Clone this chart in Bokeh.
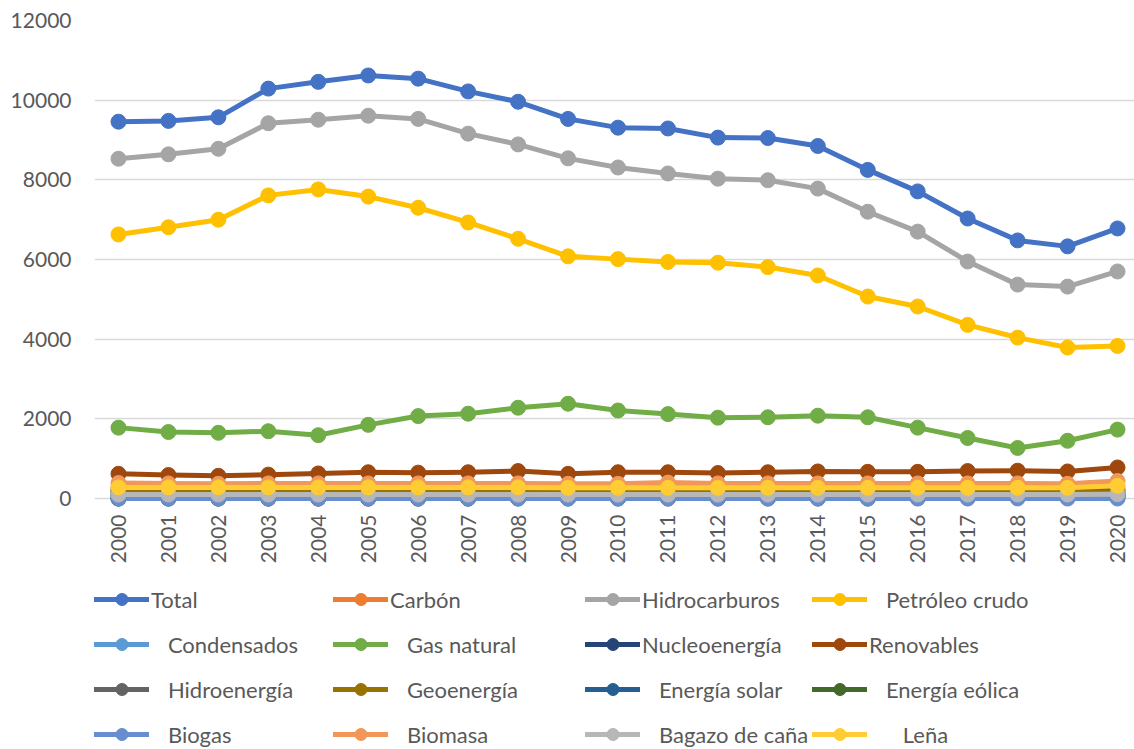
from bokeh.plotting import figure
from bokeh.models import Range1d, FixedTicker, Legend, LegendItem
from bokeh.layouts import column
from bokeh.embed import file_html
from bokeh.resources import INLINE
import math

years = [2000, 2001, 2002, 2003, 2004, 2005, 2006, 2007, 2008, 2009, 2010,
         2011, 2012, 2013, 2014, 2015, 2016, 2017, 2018, 2019, 2020]

total = [9460, 9480, 9570, 10290, 10460, 10620, 10540, 10220, 9960, 9530, 9310,
         9290, 9060, 9050, 8850, 8250, 7710, 7030, 6480, 6330, 6780]
carbon = [270, 270, 270, 280, 280, 290, 290, 290, 300, 290, 290,
          300, 300, 290, 290, 280, 270, 260, 260, 250, 260]
hidrocarburos = [8530, 8640, 8780, 9420, 9510, 9610, 9530, 9160, 8890, 8540, 8310,
                 8160, 8030, 7990, 7780, 7200, 6700, 5950, 5370, 5320, 5700]
petroleo = [6630, 6810, 7000, 7610, 7760, 7580, 7300, 6930, 6520, 6080, 6010,
            5940, 5920, 5810, 5600, 5070, 4820, 4360, 4040, 3790, 3830]
condensados = [90, 90, 80, 80, 80, 70, 70, 60, 60, 60, 50,
               50, 40, 40, 40, 30, 30, 30, 30, 20, 20]
gas_natural = [1780, 1670, 1650, 1690, 1590, 1850, 2070, 2130, 2280, 2380, 2210,
               2120, 2030, 2040, 2080, 2040, 1780, 1520, 1270, 1450, 1730]
nucleo = [90, 100, 110, 110, 100, 120, 120, 110, 110, 110, 60,
          110, 90, 130, 100, 120, 110, 110, 140, 120, 110]
renovables = [620, 590, 570, 600, 630, 660, 650, 660, 690, 620, 660,
              660, 640, 660, 680, 670, 670, 690, 700, 680, 780]
hidroenergia = [190, 180, 170, 180, 180, 190, 190, 190, 200, 180, 190,
                190, 180, 190, 190, 190, 190, 190, 190, 190, 200]
geoenergia = [180, 180, 180, 180, 180, 180, 180, 180, 180, 180, 180,
              180, 180, 180, 170, 170, 170, 160, 160, 160, 150]
solar = [0, 0, 0, 0, 0, 0, 0, 0, 0, 0, 0,
         0, 0, 0, 0, 0, 10, 20, 40, 60, 70]
eolica = [0, 0, 0, 0, 0, 0, 0, 0, 10, 10, 10,
          20, 20, 20, 30, 30, 40, 40, 50, 60, 70]
biogas = [0, 0, 0, 0, 0, 0, 0, 0, 0, 0, 0,
          0, 0, 0, 0, 0, 0, 0, 0, 0, 0]
biomasa = [390, 380, 370, 380, 380, 380, 380, 380, 380, 370, 370,
           400, 380, 380, 380, 380, 380, 380, 380, 370, 440]
bagazo = [100, 100, 100, 100, 100, 100, 100, 100, 100, 100, 100,
          100, 100, 100, 100, 100, 100, 100, 100, 100, 110]
lena = [280, 280, 280, 280, 280, 280, 280, 280, 280, 270, 270,
        270, 270, 270, 270, 270, 270, 270, 270, 270, 320]

NB = "\u00a0"
series = [
    ("Total", total, "#4472C4"),
    ("Carbón", carbon, "#ED7D31"),
    ("Hidrocarburos", hidrocarburos, "#A5A5A5"),
    (NB * 3 + "Petróleo crudo", petroleo, "#FFC000"),
    (NB * 3 + "Condensados", condensados, "#5B9BD5"),
    (NB * 3 + "Gas natural", gas_natural, "#70AD47"),
    ("Nucleoenergía", nucleo, "#264478"),
    ("Renovables", renovables, "#9E480E"),
    (NB * 3 + "Hidroenergía", hidroenergia, "#636363"),
    (NB * 3 + "Geoenergía", geoenergia, "#997300"),
    (NB * 3 + "Energía solar", solar, "#255E91"),
    (NB * 3 + "Energía eólica", eolica, "#43682B"),
    (NB * 3 + "Biogas", biogas, "#698ED0"),
    (NB * 3 + "Biomasa", biomasa, "#F1975A"),
    (NB * 3 + "Bagazo de caña", bagazo, "#B7B7B7"),
    (NB * 6 + "Leña", lena, "#FFCD33"),
]

FONT = "Lato"
TXT = "#595959"

p = figure(frame_width=1040, frame_height=488, output_backend="svg", toolbar_location=None,
           x_range=Range1d(1999.52, 2020.34), y_range=Range1d(-250, 12000),
           min_border_left=94, min_border_right=0, min_border_top=20,
           min_border_bottom=70)
p.outline_line_color = None
p.background_fill_color = "white"
p.border_fill_color = "white"

for name, vals, col in series:
    p.line(years, vals, line_color=col, line_width=5, line_join="round")
    p.scatter(years, vals, size=15, fill_color=col, line_color=col)

p.xgrid.visible = False
p.ygrid.grid_line_color = "#D9D9D9"
p.ygrid.grid_line_width = 1.3
p.yaxis.ticker = FixedTicker(ticks=[0, 2000, 4000, 6000, 8000, 10000, 12000])
p.xaxis.ticker = FixedTicker(ticks=years)
for ax in (p.xaxis[0], p.yaxis[0]):
    ax.axis_line_color = None
    ax.major_tick_line_color = None
    ax.minor_tick_line_color = None
    ax.major_tick_out = 0
    ax.major_tick_in = 0
    ax.minor_tick_out = 0
    ax.minor_tick_in = 0
    ax.major_label_text_font = FONT
    ax.major_label_text_font_size = "21px"
    ax.major_label_text_color = TXT
p.yaxis.major_label_standoff = 23
p.xaxis.major_label_standoff = 6
p.xaxis.major_label_orientation = math.pi / 2

# legend panel: a frame-only figure holding four legend columns
# (its own copies of the series lie outside its visible range; only the legend shows)
lg = figure(width=1134, height=171, output_backend="svg", toolbar_location=None,
            x_range=Range1d(0, 1), y_range=Range1d(0, 1),
            min_border_left=0, min_border_right=0, min_border_top=0,
            min_border_bottom=0)
lg.axis.visible = False
lg.grid.visible = False
lg.outline_line_color = None
lg.border_fill_color = "white"

items = []
for name, vals, col in series:
    r1 = lg.line(years, vals, line_color=col, line_width=5, line_cap="round")
    r2 = lg.scatter(years, vals, size=15, fill_color=col, line_color=col)
    items.append(LegendItem(label=name, renderers=[r1, r2]))

col_offsets = [0, 239, 491, 718]
for c, xoff in enumerate(col_offsets):
    leg = Legend(items=[items[4 * r + c] for r in range(4)],
                 location=(xoff, 0), orientation="vertical",
                 label_text_font=FONT, label_text_font_size="22px",
                 label_text_color=TXT, glyph_width=55, glyph_height=30,
                 label_standoff=2, spacing=15, padding=0, margin=0,
                 border_line_color=None, background_fill_alpha=0)
    lg.add_layout(leg, "center")

layout = column(p, lg, spacing=0)
open("out.html", "w").write(file_html(layout, INLINE))
